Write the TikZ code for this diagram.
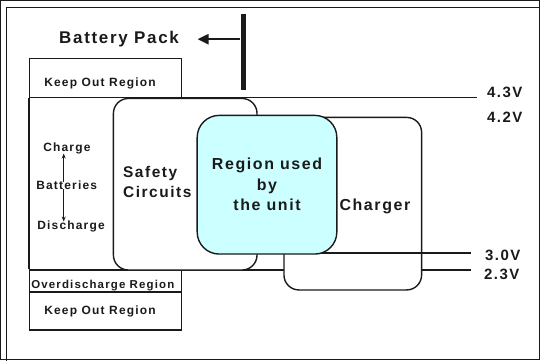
\documentclass[tikz,border=0pt]{standalone}
\usepackage{fontspec}
\setmainfont{Liberation Sans}[LetterSpace=10]
\usetikzlibrary{arrows.meta}
\definecolor{unitfill}{HTML}{CCFFFF}
\definecolor{ink}{HTML}{1A1A1A}
\begin{document}
\begin{tikzpicture}[x=1pt,y=-1pt,
  line width=1.4pt,
  every path/.style={draw=ink},
  region/.style={draw=ink, line width=1.4pt, inner sep=0pt},
  roundbox/.style={region, fill=white, rounded corners=#1},
  txt/.style={inner sep=0pt, text=ink, font=\bfseries\fontsize{#1}{#1}\selectfont},
  small/.style={txt=12},
  volt/.style={txt=15, anchor=base west},
  tip/.style={-{Stealth[length=5pt,width=4pt]}, line width=1pt}
]
\useasboundingbox (0,0) rectangle (540,360);

% outer frame (only its top and left edges fall inside the page)
\draw[line width=1.3pt] (6,362) -- (6,7) -- (542,7);

% battery pack marker
\node[fill=ink, draw=none, minimum width=5pt, minimum height=77pt, inner sep=0pt] (bar) at (243,51.5) {};
\node[txt=17, anchor=base west] (pack) at (58,43) {Battery Pack};
\draw[line width=2.4pt, -{Triangle[length=11pt,width=10pt]}] (bar.west |- pack) -- ([xshift=18pt]pack.east);

% voltage level lines
\coordinate (l43a) at (29,97);
\coordinate (l43b) at (478,97);
\coordinate (l23a) at (29,270);
\coordinate (l23b) at (472,270);
\coordinate (l30a) at (290,253);
\coordinate (l30b) at (472,253);
\draw (l43a) -- (l43b);
\draw (l23a) -- (l23b);

% left column of regions
\node[region, minimum width=152pt, minimum height=39pt] (keeptop) at (105,77.5) {};
\node[region, minimum width=152pt, minimum height=22pt] (overd) at (105,281) {};
\node[region, minimum width=152pt, minimum height=38pt] (keeplow) at (105,311) {};
\draw (keeptop.south west) -- (overd.north west);

% safety circuits and charger ranges
\node[roundbox=15pt, minimum width=144pt, minimum height=172pt] (safety) at (185,184) {};
\node[roundbox=15pt, minimum width=138pt, minimum height=173pt] (charger) at (353,203.5) {};
\draw (l30a) -- (l30b);

% range used by the unit
\node[region, fill=unitfill, rounded corners=22pt, minimum width=140pt, minimum height=139pt,
      align=center, font=\bfseries\fontsize{16}{20.5}\selectfont, text=ink] (unit) at (267,184.5)
      {Region used\\by\\the unit};

% labels
\node[small, anchor=base west] (kotext) at (43,86) {Keep Out Region};
\node[small, anchor=base west] (charge) at (42,151.5) {Charge};
\node[small, anchor=base west] (batt) at (35,189.3) {Batteries};
\node[small, anchor=base west] (disch) at (36,229.3) {Discharge};
\node[txt=11.5, anchor=base west] (odtext) at (30,288.3) {Overdischarge Region};
\node[small, anchor=base west] (kltext) at (43,314.3) {Keep Out Region};
\coordinate (axis) at ([xshift=-3pt]batt.north);
\draw[tip] ([yshift=-1.5pt]axis |- batt.north) -- ([yshift=1.5pt]axis |- charge.south);
\draw[tip] ([yshift=1.5pt]axis |- batt.south) -- ([yshift=-1.5pt]axis |- disch.north);

\node[txt=15.5, align=left, anchor=west, font=\bfseries\fontsize{15.5}{20}\selectfont] (safetext) at (122,182) {Safety\\Circuits};
\node[txt=16, anchor=base west] (chtext) at (339,210.7) {Charger};

\node[volt] (v43) at (487,97.3) {4.3V};
\node[volt] (v42) at (487,122.3) {4.2V};
\node[volt] (v30) at (485,260) {3.0V};
\node[volt] (v23) at (484,279.3) {2.3V};
\end{tikzpicture}
\end{document}
